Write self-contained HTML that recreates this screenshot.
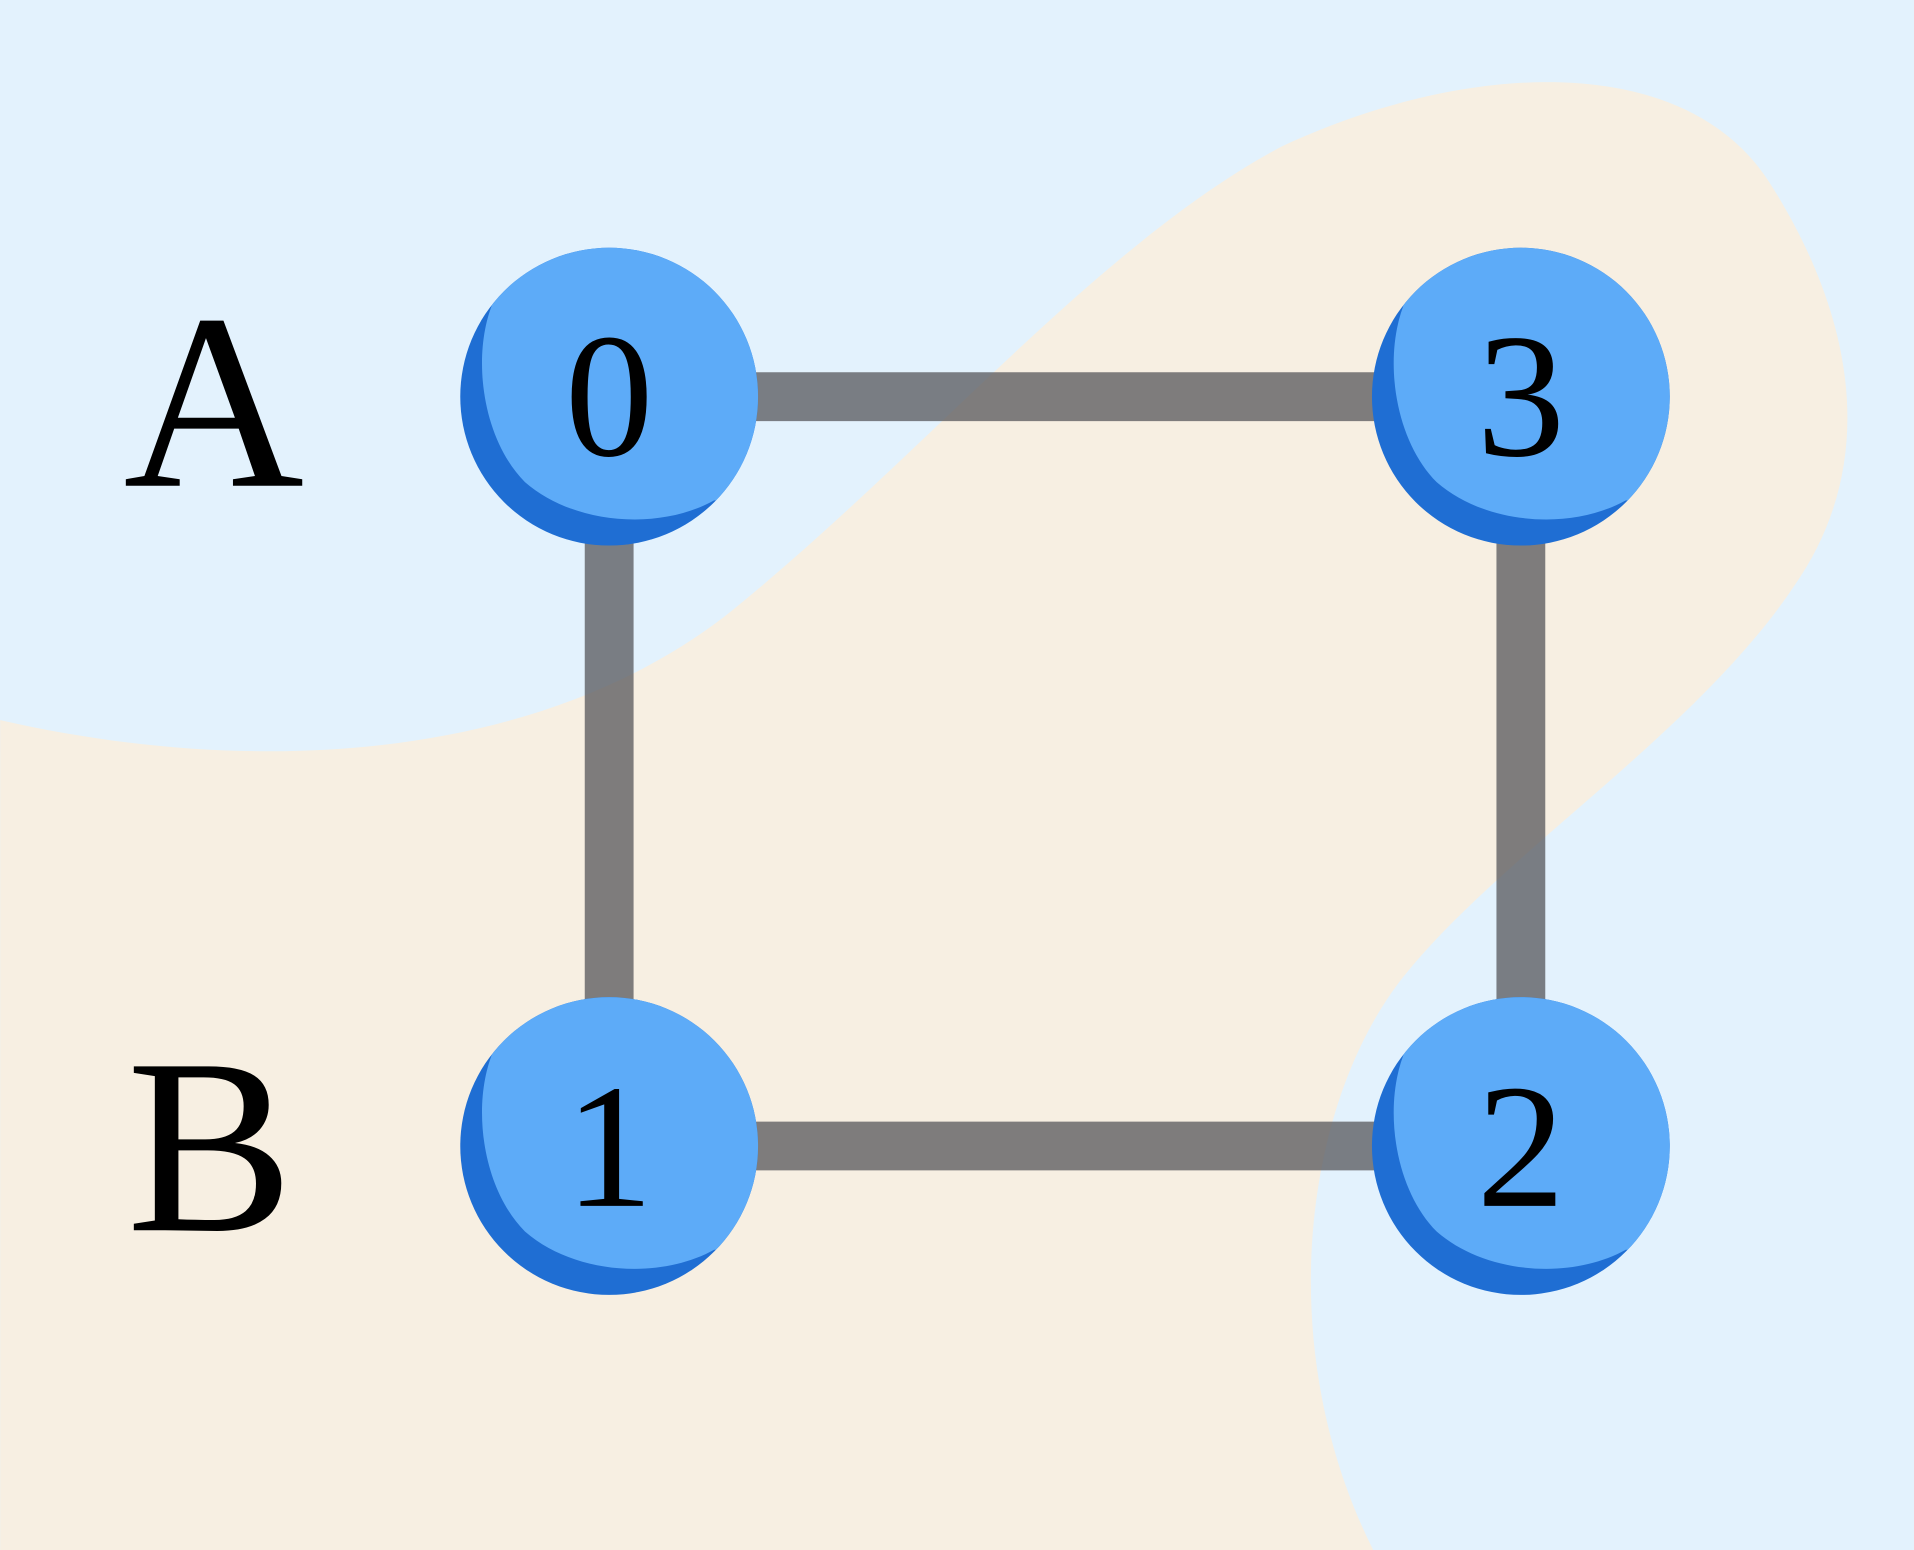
<!DOCTYPE html>
<html><head><meta charset="utf-8"><style>html,body{margin:0;padding:0;background:#E3F2FD}svg{display:block}</style></head>
<body>
<svg width="1914" height="1550" viewBox="0 0 1568 1270" xmlns="http://www.w3.org/2000/svg">
<defs>
<clipPath id="c"><circle cx="0" cy="0" r="122"/></clipPath>
<g id="n">
<circle cx="0" cy="0" r="122" fill="#1F6ED3"/>
<path clip-path="url(#c)" fill="#5DABF8" d="M -94,-80 C -114,-35 -104,35 -69,70 C -29,105 41,110 86,85 L 200,85 L 200,-200 L -94,-200 Z"/>
</g>
</defs>
<rect width="1568" height="1270" fill="#E3F2FD"/>
<path fill="#F7EFE2" d="M 0,590 C 220,640 450,620 600,500 C 760,370 900,200 1050,120 C 1200,50 1380,40 1450,150 C 1520,260 1540,380 1470,480 C 1390,600 1230,700 1150,800 C 1070,900 1040,1100 1125,1270 L 0,1270 Z"/>
<g stroke="#55555a" stroke-opacity="0.75" stroke-width="40" fill="none">
<line x1="499" y1="325" x2="1246" y2="325"/>
<line x1="499" y1="939" x2="1246" y2="939"/>
<line x1="499" y1="345" x2="499" y2="919"/>
<line x1="1246" y1="345" x2="1246" y2="919"/>
</g>
<use href="#n" x="499" y="325"/>
<use href="#n" x="1246" y="325"/>
<use href="#n" x="499" y="939"/>
<use href="#n" x="1246" y="939"/>
<g font-family="Liberation Serif, serif" text-anchor="middle" fill="#000">
<text x="499" y="373" font-size="145">0</text>
<text x="1246" y="373" font-size="145">3</text>
<text x="499" y="988" font-size="145">1</text>
<text x="1246" y="988" font-size="145">2</text>
<text x="175" y="398" font-size="205">A</text>
<text x="172" y="1008" font-size="205">B</text>
</g>
</svg>
</body></html>
